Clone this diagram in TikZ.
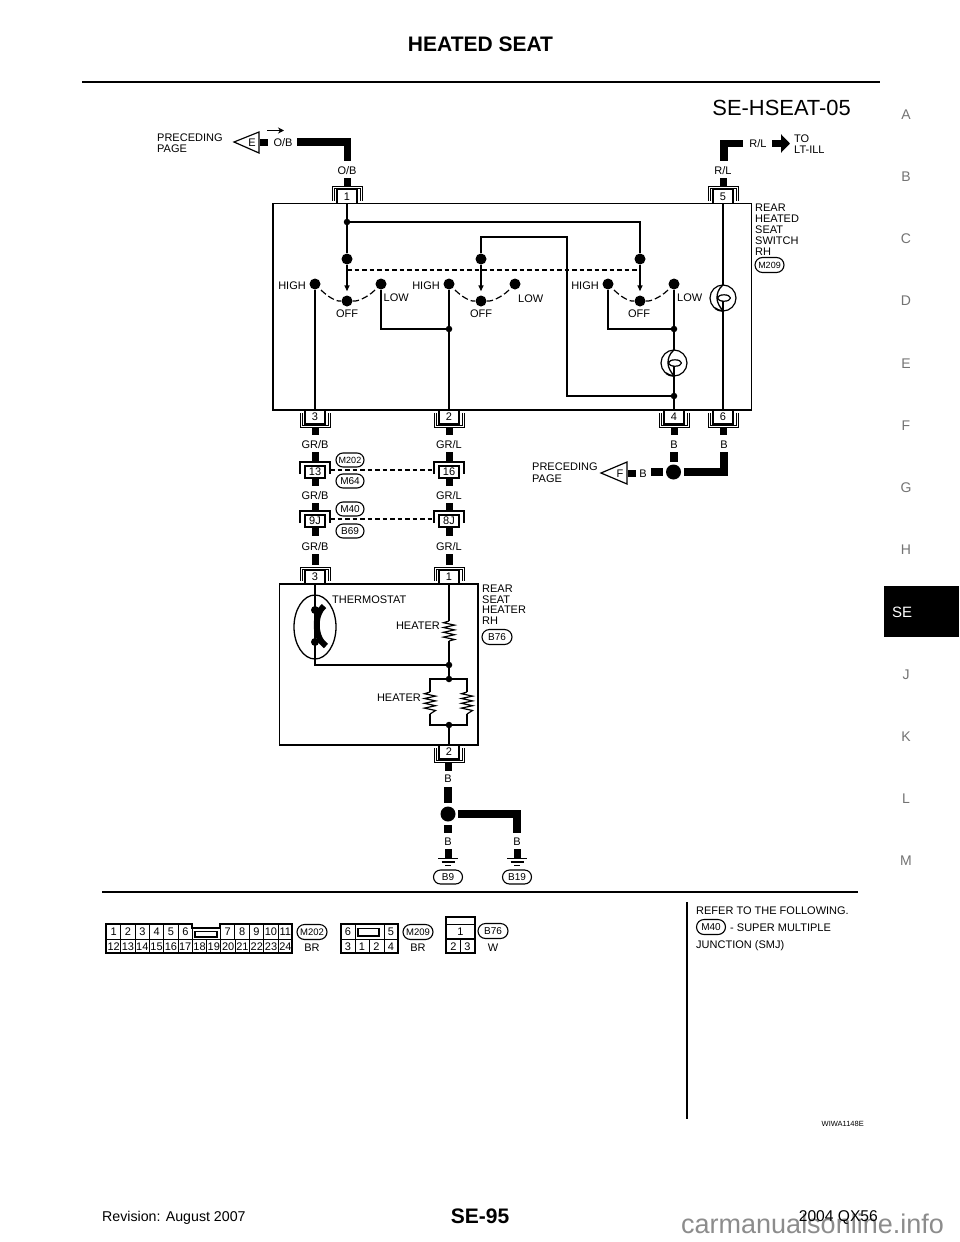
\documentclass[tikz,border=0pt]{standalone}
\usepackage{fontspec}
\setmainfont{Liberation Sans}
\usetikzlibrary{arrows.meta,calc}
\definecolor{tabgray}{gray}{0.45}
\definecolor{markgray}{gray}{0.55}
\newcommand{\fs}[1]{\fontsize{#1}{#1}\selectfont}
\tikzset{
 lbl/.style={inner sep=0pt,font=\fs{11},text height=8pt,text depth=0pt},
 lft/.style={lbl,anchor=west},
 rgt/.style={lbl,anchor=east},
 wire/.style={line width=1.4pt},
 harness/.style={line width=7.3pt},
 bigdot/.style={circle,fill=black,inner sep=0pt,minimum size=11pt},
 jdot/.style={circle,fill=black,inner sep=0pt,minimum size=6.5pt},
 hdot/.style={circle,fill=black,inner sep=0pt,minimum size=15pt},
 arc/.style={line width=1.2pt,dash pattern=on 6.5pt off 3pt},
 link/.style={line width=1.4pt,dash pattern=on 4.5pt off 3pt},
 pill/.style={draw,rounded corners=7pt,line width=1.1pt,inner sep=0pt,minimum height=14pt,font=\fs{10}},
 pin/.style={draw,line width=1.2pt,fill=white,inner sep=0pt,minimum width=20pt,minimum height=14pt,font=\fs{11}},
 cell/.style={draw,line width=1pt,inner sep=0pt,font=\fs{11}},
 side/.style={inner sep=0pt,text=tabgray,font=\fs{14}},
 flag/.style={draw,line width=1.2pt,line join=miter,fill=white},
}
% connector above a body: name, x, y of body edge, text
\newcommand{\pintop}[4]{%
 \draw[line width=.8pt] (#2-15,#3-3) -- (#2-15,#3-17) -- (#2+15,#3-17) -- (#2+15,#3-3);
 \draw[line width=.8pt] (#2-13,#3-3) -- (#2-13,#3-15) -- (#2+13,#3-15) -- (#2+13,#3-3);
 \node[pin] (#1) at (#2,#3-7) {#4};
}
\newcommand{\pinbot}[4]{%
 \draw[line width=.8pt] (#2-15,#3+3) -- (#2-15,#3+17) -- (#2+15,#3+17) -- (#2+15,#3+3);
 \draw[line width=.8pt] (#2-13,#3+3) -- (#2-13,#3+15) -- (#2+13,#3+15) -- (#2+13,#3+3);
 \node[pin] (#1) at (#2,#3+7) {#4};
}
\newcommand{\pinmid}[4]{%
 \draw[line width=1.4pt] (#2-15,#3+12) -- (#2-15,#3) -- (#2+15,#3) -- (#2+15,#3+12);
 \node[pin,line width=1.7pt,minimum height=12pt] (#1) at (#2,#3+10) {#4};
}
% lamp symbol
\newcommand{\lamp}[3]{%
 \node[circle,draw,line width=1.2pt,fill=white,inner sep=0pt,minimum size=26pt] (#1) at (#2,#3) {};
 \draw[line width=1.2pt] (#2+7.5,#3) arc[start angle=0,end angle=360,x radius=6.5pt,y radius=3.2pt];
 \draw[line width=1.3pt] (#2,#3-13) .. controls (#2-5,#3-9) and (#2-6,#3-4) .. (#2-6,#3) .. controls (#2-6,#3+5) and (#2-3,#3+9) .. (#2,#3+13);
 \draw[line width=1.8pt] (#2-8,#3+10.2) arc[start angle=232,end angle=270,radius=13pt];
 \draw[line width=1.2pt] (#2,#3+13) -- (#2,#3+3.2);
}
% resistor zig-zag, vertical
\newcommand{\resist}[3]{%
 \fill[white] (#1-7,#2) rectangle (#1+7,#3);
 \draw[line width=1.2pt] (#1,#2) -- ++(-5.5,1.7) -- ++(11,2.4) -- ++(-11,2.4) -- ++(11,2.4) -- ++(-11,2.4) -- ++(11,2.4) -- ++(-11,2.4) -- ++(11,2.4) -- (#1,#3);
}
\begin{document}
\begin{tikzpicture}[x=1pt,y=-1pt]
\useasboundingbox (0,0) rectangle (960,1242);
\fill[white] (0,0) rectangle (960,1242);

% ---- page furniture
\node[inner sep=0pt,font=\bfseries\fs{21}] (title) at (480.5,44) {HEATED SEAT};
\draw[line width=2.6pt] (82,82) -- (880,82);
\node[inner sep=0pt,anchor=east,font=\fs{21.9}] (code) at (851,107.5) {SE-HSEAT-05};
\foreach \t/\y in {A/115,B/177,C/239,D/301,E/364,F/426,G/488,H/550,J/675,K/737,L/799,M/861}
  \node[side] (tab\t) at (906,\y) {\t};
\fill[black] (884,586) rectangle (959,637);
\node[inner sep=0pt,text=white,font=\fs{15}] (tabSE) at (902,612) {SE};
\node[inner sep=0pt,anchor=base west,text=markgray,font=\fs{27}] (mark) at (681,1233) {carmanualsonline.info};
\node[inner sep=0pt,anchor=west,font=\fs{14.2}] (rev) at (102,1218) {Revision: August 2007};
\node[inner sep=0pt,font=\bfseries\fs{21}] (pg) at (480,1216) {SE-95};
\node[inner sep=0pt,anchor=east,font=\fs{15.6}] (car) at (878,1218) {2004 QX56};

% ---- switch body
\draw[line width=1.8pt] (273,203.5) rectangle (751.5,410);
\pintop{p1}{347}{203.5}{1}
\pintop{p5}{723}{203.5}{5}
\pinbot{p3}{315}{410}{3}
\pinbot{p2}{449}{410}{2}
\pinbot{p4}{674}{410}{4}
\pinbot{p6}{723}{410}{6}

% harness top left
\node[lbl] (ob1) at (347,170) {O/B};
\node[lbl] (ob2) at (283,142) {O/B};
\fill (344,178) rectangle (351,186);
\draw[flag] (234,142) -- (259,132) -- (259,153) -- cycle;
\node[lbl] (flagE) at (252,142) {E};
\fill (260,138.5) rectangle (268,145.5);
\draw[harness,line join=miter] (297,142) -- (347.5,142) -- (347.5,161);
\draw[line width=1.1pt,-{Stealth[length=6pt,width=6pt]}] (267,130.5) -- (284,130.5);
\node[lft] (prec1a) at (157,137) {PRECEDING};
\node[lft] (prec1b) at (157,148) {PAGE};

% harness top right
\node[lbl] (rl1) at (723,170) {R/L};
\node[lbl] (rl2) at (758,143) {R/L};
\fill (719.5,178) rectangle (726.5,186);
\draw[harness,line join=miter] (743,143.5) -- (724,143.5) -- (724,161);
\draw[harness,-{Triangle[length=9pt,width=18pt]},shorten >=-1pt] (772,143.5) -- (789,143.5);
\node[lft] (toa) at (794,138) {TO};
\node[lft] (tob) at (794,149) {LT-ILL};

% switch label
\node[lft] (sw1) at (755,207) {REAR};
\node[lft] (sw2) at (755,218) {HEATED};
\node[lft] (sw3) at (755,229) {SEAT};
\node[lft] (sw4) at (755,240) {SWITCH};
\node[lft] (sw5) at (755,251) {RH};
\node[pill,minimum width=29pt,rounded corners=7.5pt,minimum height=15pt] (pM209) at (769.5,265) {\fs{9}M209};

% switch internals: points
\node[jdot] (j1) at (347,222) {};
\node[bigdot] (c1) at (347,259) {};
\node[bigdot] (off1) at (347,301) {};
\node[bigdot] (hi1) at (315,284) {};
\node[bigdot] (lo1) at (381,284) {};
\node[bigdot] (c2) at (481,259) {};
\node[bigdot] (off2) at (481,301) {};
\node[bigdot] (hi2) at (449,284) {};
\node[bigdot] (lo2) at (515,284) {};
\node[bigdot] (c3) at (640,259) {};
\node[bigdot] (off3) at (640,301) {};
\node[bigdot] (hi3) at (608,284) {};
\node[bigdot] (lo3) at (674,284) {};
\node[jdot] (j2) at (449,329) {};
\node[jdot] (j3) at (674,329) {};
\node[jdot] (j4) at (674,396) {};

\draw[wire] (p1) -- (j1) -- (c1);
\draw[wire] (j1) -- (640,222) -- (c3);
\draw[wire] (c2) -- (481,237) -- (567,237) -- (567,396) -- (j4);
\foreach \a/\b in {c1/off1,c2/off2,c3/off3}
  \draw[wire,-{Triangle[length=6pt,width=5pt]},shorten >=4pt] (\a) -- (\b);
\draw[link] (347,270) -- (638,270);
\draw[wire] (hi1) -- (p3);
\draw[wire] (hi2) -- (p2);
\draw[wire] (lo1) -- (381,329) -- (j2);
\draw[wire] (hi3) -- (608,329) -- (j3);
\draw[line width=1.8pt] (lo3) -- (j3) -- (j4) -- (p4);
\draw[wire] (p5) -- (p6);
\lamp{l1}{674}{363}
\lamp{l2}{723}{298}

% dashed arcs
\foreach \h/\o/\l in {hi1/off1/lo1,hi2/off2/lo2,hi3/off3/lo3}{
  \draw[arc] ($(\h)+(6,6)$) .. controls ($(\h)+(13,13)$) and ($(\o)+(-10,1)$) .. ($(\o)+(-6,0)$);
  \draw[arc] ($(\l)+(-6,6)$) .. controls ($(\l)+(-13,13)$) and ($(\o)+(10,1)$) .. ($(\o)+(6,0)$);
}

\node[rgt] (th1) at (306,285) {HIGH};
\node[rgt] (th2) at (440,285) {HIGH};
\node[rgt] (th3) at (599,285) {HIGH};
\node[lbl] (tf1) at (347,313) {OFF};
\node[lbl] (tf2) at (481,313) {OFF};
\node[lbl] (tf3) at (639,313) {OFF};
\node[lft] (tl1) at (383.5,297) {LOW};
\node[lft] (tl2) at (518,298) {LOW};
\node[lft] (tl3) at (677,297) {LOW};

% under switch
\fill (311.5,427) rectangle (318.5,435);
\fill (445.5,427) rectangle (452.5,435);
\fill (670.5,427) rectangle (677.5,435);
\fill (719.5,427) rectangle (726.5,435);
\foreach \x/\t/\n in {315/GR\slash B/a,449/GR\slash L/b}{
  \node[lbl] (u\n1) at (\x,444) {\t};
  \node[lbl] (u\n2) at (\x,495) {\t};
  \node[lbl] (u\n3) at (\x,546) {\t};
}
\node[lbl] (b4) at (674,444) {B};
\node[lbl] (b6) at (724,444) {B};

% ground harness of pins 4,6 and F
\node[hdot] (jF) at (673.5,472) {};
\draw[harness] (674,452) -- (674,462);
\draw[harness,line join=miter] (684,472) -- (724,472) -- (724,452);
\draw[harness] (651,472) -- (663,472);
\node[lbl] (bF) at (643,473) {B};
\draw[flag] (601,473) -- (627,462) -- (627,484) -- cycle;
\node[lbl] (flagF) at (620,473) {F};
\fill (628,469.5) rectangle (636,476.5);
\node[lft] (prec2a) at (532,466) {PRECEDING};
\node[lft] (prec2b) at (532,478) {PAGE};

% in-line connectors
\foreach \x in {315,449}{
  \fill (\x-3.5,452) rectangle (\x+3.5,462);
  \fill (\x-3.5,477) rectangle (\x+3.5,486);
  \fill (\x-3.5,503) rectangle (\x+3.5,511);
  \fill (\x-3.5,527) rectangle (\x+3.5,536);
  \fill (\x-3.5,554) rectangle (\x+3.5,565);
}
\pinmid{c13}{315}{462}{13}
\pinmid{c16}{449}{462}{16}
\pinmid{c9J}{315}{511}{9J}
\pinmid{c8J}{449}{511}{8J}
\draw[link] (c13) ++(15,-2) -- ($(c16)+(-15,-2)$);
\draw[link] (c9J) ++(15,-2) -- ($(c8J)+(-15,-2)$);
\node[pill,minimum width=28pt] (pM202) at (350,460) {\fs{9}M202};
\node[pill,minimum width=28pt] (pM64) at (350,481) {M64};
\node[pill,minimum width=28pt] (pM40) at (350,509) {M40};
\node[pill,minimum width=28pt] (pB69) at (350,531) {B69};

% heater body
\draw[line width=1.6pt] (279.5,584) rectangle (478,745);
\pintop{h3}{315}{584}{3}
\pintop{h1}{449}{584}{1}
\pinbot{h2}{449}{745}{2}
\node[lft] (hl1) at (482,588) {REAR};
\node[lft] (hl2) at (482,599) {SEAT};
\node[lft] (hl3) at (482,609) {HEATER};
\node[lft] (hl4) at (482,620) {RH};
\node[pill,minimum width=30pt,minimum height=15pt,rounded corners=7.5pt] (pB76) at (497,637) {B76};

\node[jdot] (j5) at (449,665) {};
\node[jdot] (j6) at (449,679) {};
\node[jdot] (j7) at (449,725) {};
\draw[wire] (h3) -- (315,665) -- (j5);
\draw[wire] (h1) -- (j5) -- (j6);
\draw[wire] (430,692) -- (430,679) -- (j6) -- (467,679) -- (467,692);
\draw[wire] (430,714) -- (430,725) -- (j7) -- (467,725) -- (467,714);
\draw[wire] (j7) -- (h2);
\resist{449}{621}{641}
\resist{430}{692}{714}
\resist{467}{692}{714}
\node[rgt] (th) at (440,625) {HEATER};
\node[rgt] (th4) at (421,697) {HEATER};
\node[lft] (tst) at (332,599) {THERMOSTAT};
\draw[line width=1.3pt] (315,627) ellipse (21pt and 32pt);
\node[jdot,minimum size=8pt] (ts1) at (315,610) {};
\node[jdot,minimum size=8pt] (ts2) at (315,642) {};
\draw[line width=6pt] (324,606) .. controls (314,614) and (314,638) .. (326,646);

% ground
\fill (444.5,763) rectangle (451.5,771);
\node[lbl] (bg1) at (448,778) {B};
\node[hdot] (jG) at (448,814) {};
\draw[harness] (448,787) -- (448,803);
\draw[harness] (448,825) -- (448,833);
\draw[harness,line join=miter] (458,814) -- (517,814) -- (517,833);
\node[lbl] (bg2) at (448,841) {B};
\node[lbl] (bg3) at (517,841) {B};
\foreach \x/\t in {448/B9,517/B19}{
  \fill (\x-3.5,849) rectangle (\x+3.5,858);
  \draw[line width=1.3pt] (\x-10,858.5) -- (\x+10,858.5);
  \draw[line width=1.2pt] (\x-6.5,862) -- (\x+6.5,862);
  \draw[line width=1.1pt] (\x-3,865.5) -- (\x+3,865.5);
  \node[pill,minimum width=29pt] (g\t) at (\x,877) {\t};
}

% lower separators
\draw[line width=1.8pt] (102,892) -- (858,892);
\draw[line width=1.8pt] (687,902) -- (687,1119);

% connector face M202
\foreach \i in {1,...,6}
  \node[cell,minimum width=14.33pt,minimum height=15pt,anchor=north west] (a\i) at ({106+(\i-1)*14.33},924) {\i};
\foreach \i/\k in {7/0,8/1,9/2,10/3,11/4}
  \node[cell,minimum width=14.4pt,minimum height=15pt,anchor=north west] (a\i) at ({220+\k*14.4},924) {\i};
\foreach \i [evaluate=\i as \k using int(\i-12)] in {12,...,24}
  \node[cell,minimum width=14.31pt,minimum height=14pt,anchor=north west] (a\i) at ({106+\k*14.31},939) {\i};
\draw[line width=1.2pt] (195,931.5) rectangle (217,937);
\draw[line width=1.4pt] (106,924) -- (192,924) -- (192,928) -- (220,928) -- (220,924) -- (292,924) -- (292,953) -- (106,953) -- cycle;
\draw[line width=1pt] (192,939) -- (220,939);
\node[pill,minimum width=30pt,minimum height=15pt,rounded corners=7.5pt] (k202) at (312,932) {\fs{9.5}M202};
\node[lbl] (kb1) at (312,947) {BR};

% connector face M209
\draw[line width=1.4pt] (341,924) rectangle (398,953);
\draw[line width=1pt] (341,939) -- (398,939);
\foreach \x in {355,384} \draw[line width=1pt] (\x,924) -- (\x,953);
\draw[line width=1pt] (369.5,939) -- (369.5,953);
\draw[line width=1.4pt] (358,928.5) rectangle (379,936);
\foreach \n/\x/\y/\t in {m6/348/931.5/6,m5/391/931.5/5,m3/348/946/3,m1/362/946/1,m2/376.5/946/2,m4/391/946/4}
  \node[lbl] (\n) at (\x,\y) {\t};
\node[pill,minimum width=30pt,minimum height=15pt,rounded corners=7.5pt] (k209) at (418,932) {\fs{9.5}M209};
\node[lbl] (kb2) at (418,947) {BR};

% connector face B76
\draw[line width=1.4pt] (446,917) rectangle (475,953);
\draw[line width=1.2pt] (446,924.5) -- (475,924.5);
\draw[line width=1.2pt] (446,939) -- (475,939);
\draw[line width=1pt] (460.5,939) -- (460.5,953);
\node[lbl] (n1) at (460.5,931.5) {1};
\node[lbl] (n2) at (453.5,946) {2};
\node[lbl] (n3) at (467.5,946) {3};
\node[pill,minimum width=30pt,minimum height=15pt,rounded corners=7.5pt] (k76) at (493,931) {B76};
\node[lbl] (kw) at (493,947) {W};

% reference note
\node[lft] (r1) at (696,910) {REFER TO THE FOLLOWING.};
\node[pill,minimum width=29pt,minimum height=15pt,rounded corners=7.5pt] (rM40) at (711,927) {M40};
\node[lft] (r2) at (730,927) {- SUPER MULTIPLE};
\node[lft] (r3) at (696,944) {JUNCTION (SMJ)};
\node[inner sep=0pt,anchor=east,font=\fs{7.5}] (wiwa) at (864,1124) {WIWA1148E};
\end{tikzpicture}
\end{document}
